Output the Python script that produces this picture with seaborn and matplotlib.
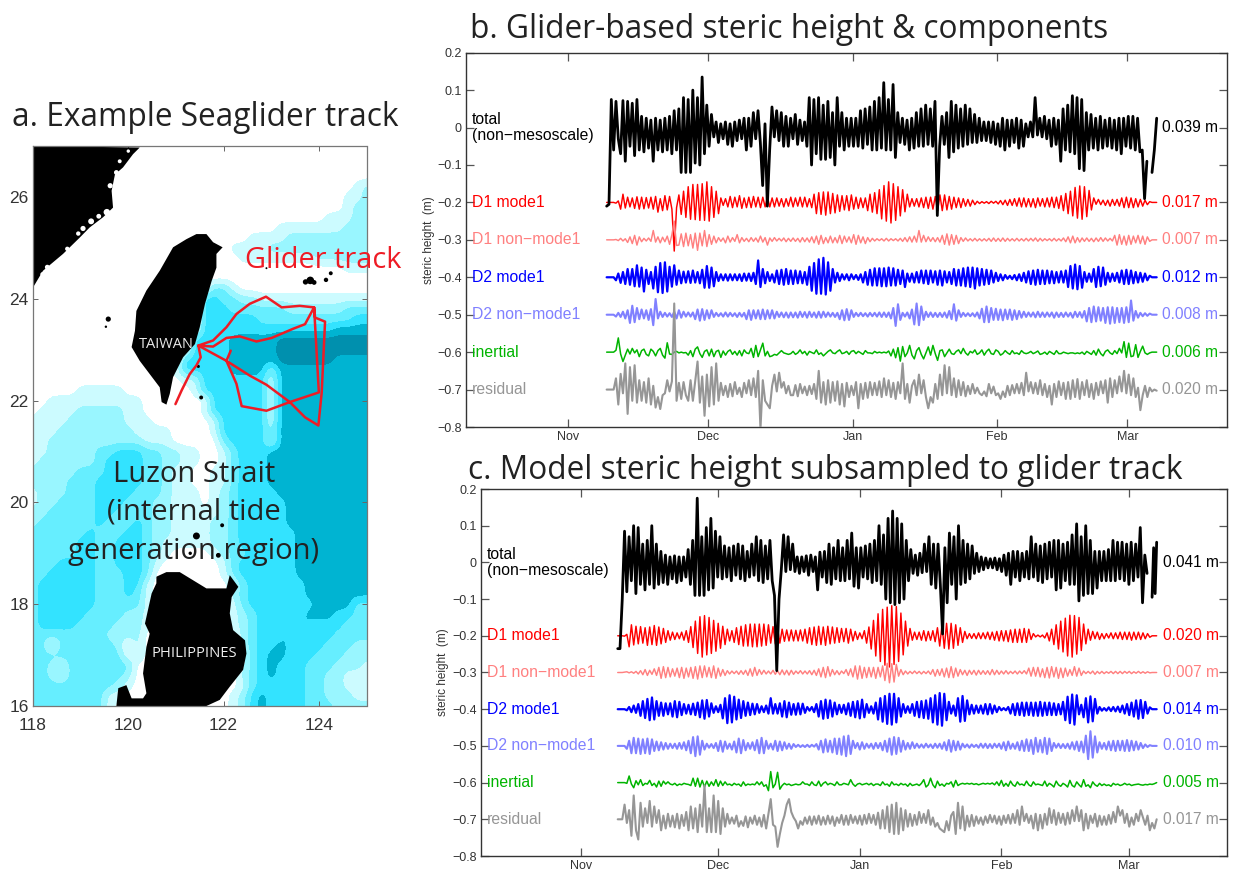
import numpy as np
import pandas as pd
import seaborn as sns
import matplotlib.pyplot as plt
from matplotlib.colors import ListedColormap

# map data (lon/lat), depth class strings, one row per 0.2 deg from 27N down to 16N
depth_rows = [
    "000000000000000000000000000000000000",
    "000000000000000000000000000000000000",
    "000000000000000000000000000000000000",
    "000000000000000000000000000000000000",
    "000000000000000000000000000000000012",
    "000000000000000000000000000000000112",
    "000000000000000000000000000000000122",
    "000000000000000000000000000000011122",
    "000000000000000000000000001111111222",
    "000000000000000000000001111222222222",
    "000000000000000000000111122222222222",
    "000000000000000000000011111111222222",
    "000000000000000000000000000000000111",
    "000000000000000000000000000000000000",
    "000000000000000000033100000000000000",
    "000000000000000000443322111111111111",
    "000000000000000000444333333222222333",
    "000000000000000000444444333333333344",
    "000000000000000000444444444444445555",
    "000000000000000004444555556666666666",
    "000000000000000004444555556666666666",
    "000000000000000044444555556666665555",
    "000000000000000144444555525555555555",
    "000000000000000011444444415555555555",
    "000001111100000001444444415555555555",
    "001111111111000000044444415555555555",
    "011112222211000000144444415555555555",
    "111122222211100000014444415555555555",
    "111222222221111000014444425555555555",
    "112222222222111000003444415555555555",
    "112222233444332211001344455555555555",
    "122222234444332211001344455555555555",
    "222223334444332110011344455555555555",
    "222233344444332110011344455555555555",
    "122233344443332111012344445555555555",
    "122333344433322111012344444555555555",
    "223333344333322111112344444555555555",
    "233333343334322111122344444555555555",
    "333333433344322111122344444455555555",
    "333334433444321111122344444455555555",
    "333334433444321000012334444455555555",
    "333444433444310000001344444455555555",
    "334444433344300000001344444455555555",
    "344444433344100000000134444445555555",
    "344444433343100000000234444445555555",
    "344444433333100000000134444444555533",
    "344444333322100000000123444445554433",
    "344443333222100000000123444454444333",
    "333333332222000000000023444544443333",
    "330333333202000000000023445444433322",
    "333333333302000000000013455444333222",
    "332133333330000000000013454443332221",
    "332133333320000000000023454443322111",
    "333333333210000000000013444443322111",
    "333333331100000000000124544443322211",
    "333333331000000000000124544443332222",
]
depth_colors = ["#FFFFFF", "#CCFBFF", "#99F6FF", "#66EEFF", "#33E3FF", "#00B4D2", "#0090AE"]

china_lon = [118, 120.24, 120.10, 119.89, 119.72, 119.65, 119.68, 119.47, 119.19, 118.98, 118.63, 118.21, 118]
china_lat = [27, 26.97, 26.84, 26.58, 26.44, 26.12, 25.79, 25.60, 25.40, 25.20, 24.88, 24.55, 24.22]
taiwan_lon = [121.43, 121.64, 121.78, 121.98, 121.85, 121.85, 121.75, 121.61, 121.50, 121.40, 121.15, 120.94, 120.87,
              120.80, 120.70, 120.66, 120.45, 120.24, 120.07, 120.14, 120.17, 120.38, 120.66, 120.94, 121.22]
taiwan_lat = [25.27, 25.27, 25.11, 25.01, 24.88, 24.61, 24.35, 23.90, 23.44, 23.11, 22.85, 22.46, 22.13,
              21.92, 21.97, 22.26, 22.52, 22.78, 23.05, 23.37, 23.76, 24.16, 24.55, 25.01, 25.17]
luzon_lon = [120.59, 120.80, 121.08, 121.36, 121.64, 122.06, 122.13, 122.31, 122.17, 122.13, 122.20, 122.45, 122.48,
             122.41, 122.13, 121.92, 121.64, 119.75, 119.79, 119.96, 120.07, 120.31, 120.38, 120.31, 120.38, 120.45,
             120.35, 120.49, 120.59]
luzon_lat = [18.54, 18.63, 18.63, 18.47, 18.31, 18.31, 18.57, 18.34, 18.14, 17.82, 17.49, 17.29, 17.03,
             16.71, 16.38, 16.12, 16.00, 16.00, 16.35, 16.41, 16.15, 16.15, 16.25, 16.64, 17.16, 17.42,
             17.62, 18.21, 18.41]
island_lon = [123.72, 123.82, 123.90, 124.15, 124.25, 121.53, 121.47, 121.43, 121.89, 121.30, 121.97, 119.58, 119.53, 122.90]
island_lat = [24.33, 24.36, 24.32, 24.37, 24.50, 22.06, 22.67, 19.34, 18.96, 19.00, 19.55, 23.60, 23.45, 24.60]
island_size = [15, 30, 12, 10, 8, 8, 5, 25, 12, 6, 8, 14, 3, 2]
speckle_lon = [119.62, 119.75, 119.55, 119.38, 119.22, 119.05, 118.95, 118.72, 118.30, 118.20, 119.82, 120.00, 119.48]
speckle_lat = [26.22, 26.48, 25.70, 25.62, 25.52, 25.38, 25.28, 24.98, 24.62, 24.48, 26.70, 26.90, 25.45]
speckle_size = [14, 12, 22, 12, 18, 14, 10, 10, 12, 10, 8, 6, 8]

track_lon = [120.99, 121.12, 121.29, 121.43, 121.52, 121.47, 121.78, 122.06, 122.27, 122.55, 122.89, 123.22, 123.60,
             123.90, 123.71, 123.46, 123.01, 122.69, 122.34, 122.06, 121.78, 121.47, 122.06, 122.55, 122.90, 123.39,
             123.71, 123.99, 124.06, 124.13, 123.92, 123.90, 124.00, 123.39, 122.90, 122.38, 122.27, 122.06, 122.15]
track_lat = [21.93, 22.20, 22.52, 22.69, 22.85, 23.08, 23.18, 23.44, 23.70, 23.90, 24.04, 23.83, 23.86,
             23.83, 23.50, 23.41, 23.23, 23.16, 23.26, 23.23, 23.06, 23.08, 22.78, 22.49, 22.31, 21.97,
             21.67, 21.51, 22.16, 23.55, 23.63, 23.83, 22.16, 21.97, 21.80, 21.89, 22.33, 22.78, 22.98]

# time axis, days since 1 Nov
month_days = [0, 30, 61, 92, 120]
month_names = ["Nov", "Dec", "Jan", "Feb", "Mar"]
y_ticks = [0.2, 0.1, 0, -0.1, -0.2, -0.3, -0.4, -0.5, -0.6, -0.7, -0.8]
y_tick_labels = ["0.2", "0.1", "0", "\u22120.1", "\u22120.2", "\u22120.3", "\u22120.4", "\u22120.5", "\u22120.6", "\u22120.7", "\u22120.8"]

# glider series, mm about each offset, roughly two readings per day
total_b = [-210, -205, 75, -60, 70, -30, -70, 72, -90, 70, -50, 65, -75, 75, -60, 30, -65, 25, -55, 20,
           -90, 25, -60, 20, -65, 25, -60, 30, -70, 45, -60, 50, -120, 80, -120, 75, -120, 100, -95, 80,
           -100, 135, -70, 60, -50, 35, -25, 15, -40, 10, -30, 15, -45, 10, -50, 15, -35, 20, -30, 25,
           -60, 25, -50, 40, -30, 45, -40, -155, 10, -210, -60, 55, -25, 45, -35, 40, -50, 30, -50, 25,
           -30, 35, -45, 20, -35, 15, -50, 80, -100, 75, -70, 80, -85, 60, -85, 70, -80, 40, -100, 80,
           -50, 40, -60, 25, -50, 25, -50, 25, -50, 45, -55, 50, -45, 55, -60, 70, -60, 80, -55, 120,
           -60, 75, -60, 115, -80, 40, -40, 25, -45, 20, -60, 25, -55, 40, -50, 50, -50, 60, -45, 50,
           -50, 70, -235, -50, 30, -45, 40, -80, 70, -65, 60, -55, 50, -50, 60, -45, 50, -40, 35, -40,
           25, -35, 15, -35, 15, -40, 15, -45, 10, -50, 25, -60, 20, -50, 20, -40, 25, -55, 20, -50,
           10, -25, 15, -25, 80, -20, 25, -25, 30, -30, 20, -50, 25, -45, 20, -90, 50, -60, 60, -65,
           85, -70, 80, -110, 75, -115, 40, -60, 35, -55, 25, -60, 30, -55, 20, -50, 25, -55, 20, -60,
           25, -70, 25, -50, 30, -55, 30, -60, 25, -65, -60, -190, -90]
total_b_end = [-120, -60, 25]
d1_mode1_b = [0, 0, 0, 0, -2, 4, -18, 22, -15, 14, -12, 12, -16, 15, -18, 14, -17, 13, -15, 14,
              -18, 16, -26, 10, -22, 18, -20, 16, -18, -130, -14, 20, -32, 30, -40, 42, -45, 48, -46, 48,
              -48, 50, -48, 55, -50, 42, -40, 30, -30, 12, -8, 10, -12, 16, -14, 14, -12, 18, -16, 12,
              -14, 14, -14, 16, -12, 14, -14, 14, -12, 14, -12, 12, -12, 12, -10, 10, -12, 10, -10, 14,
              -12, 12, -10, 14, -12, 14, -12, 10, -14, 22, -30, 26, -32, 28, -34, 28, -30, 24, -28, 20,
              -24, 18, -20, 18, -22, 20, -18, 14, -16, 12, -14, 12, -22, 22, -26, 26, -30, 34, -44, 45,
              -50, 55, -55, 50, -48, 42, -36, 34, -25, 22, -12, 10, -10, 10, -12, 12, -14, 14, -16, 14,
              -18, 16, -22, 20, -22, 20, -20, 16, -18, 14, -14, 12, -14, 10, -10, 8, -10, 6, -6, 3,
              -3, 2, -2, 2, -3, 3, -2, 3, -4, 5, -6, 6, -8, 8, -8, 10, -10, 12, -12, 12,
              -12, 10, -12, 10, -14, 12, -10, 10, -12, 12, -12, 14, -14, 14, -16, 18, -22, 24, -30, 30,
              -36, 40, -42, 44, -45, 42, -38, 32, -20, 12, -5, 8, -6, 6, -8, 6, -10, 8, -8, 8,
              -10, 12, -14, 14, -14, 12, -14, 10, -12, 8, -10, 6, -6, 2, 0, 0, 0]
d1_other_b = [0, 0, 0, 0, 1, -2, 4, -3, 3, -7, 8, -10, 12, -14, 8, -5, 4, -3, 5, -4,
              25, -6, 8, -8, 7, -5, 10, -12, 14, 50, -15, -14, 16, -18, 18, -16, 14, -22, 18, -28,
              18, -16, 25, -18, 14, -12, 10, -8, 6, -4, 5, -8, 10, -6, 6, -4, 14, -8, 6, -4,
              4, -5, 6, -4, 5, -6, 10, -6, 6, -14, 5, -4, 6, -3, 4, -3, 5, -5, 4, -4,
              5, -4, 4, -6, 6, -5, 5, -6, 8, -8, 10, -12, 12, -10, 6, -8, 10, -8, 6, -8,
              12, -10, 10, -6, 8, -8, 14, -12, 12, -8, 8, -10, 6, -5, 4, -3, 3, -2, 3, -3,
              4, -3, 3, -2, 3, -3, 4, -4, 6, -5, 8, -6, 10, -6, 25, -6, 12, -5, 8, -4,
              6, -5, 6, -6, 12, -12, 16, -14, 14, -12, 12, -10, 6, -4, 5, -3, 3, -3, 4, -3,
              3, -3, 3, -3, 4, -4, 5, -4, 4, -4, 5, -4, 4, -3, 3, -3, 4, -3, 3, -3,
              4, -3, 4, -3, 5, -4, 4, -3, 3, -2, 3, -3, 4, -3, 3, -3, 5, -5, 8, -8,
              10, -8, 6, -6, 5, -4, 5, -4, 4, -5, 5, -4, 6, -4, 5, -3, 4, -3, 12, -14,
              14, -12, 10, -14, 12, -12, 10, -8, 12, -10, 10, -12, 8, -4, 0, 0, 0]
d2_mode1_b = [0, 0, 0, 0, -8, 10, -15, 14, -18, 22, -20, 22, -24, 32, -25, 26, -38, 20, -18, 14,
              -30, 28, -40, 38, -42, 40, -38, 28, -25, 32, -20, 18, -16, 15, -14, 16, -15, 18, -14, 14,
              -16, 20, -28, 30, -28, 26, -24, 14, -10, 8, -8, 8, -9, 8, -8, 8, -8, 8, -10, 10,
              -9, 10, -10, 12, -18, 45, -26, 22, -16, 14, -10, 8, -14, 18, -18, 20, -20, 22, -18, 18,
              -18, 18, -16, 16, -16, 14, -20, 28, -36, 38, -44, 48, -44, 52, -46, 40, -36, 22, -14, 12,
              -10, 8, -6, 8, -8, 8, -5, 6, -7, 8, -14, 14, -20, 20, -22, 24, -22, 24, -24, 24,
              -24, 26, -22, 24, -22, 20, -18, 18, -26, 10, -12, 10, -14, 14, -14, 18, -16, 18, -18, 18,
              -14, 16, -20, 18, -22, 16, -14, 14, -18, 22, -22, 20, -22, 24, -24, 26, -26, 26, -30, 24,
              -22, 22, -20, 20, -18, 18, -14, 12, -10, 8, -8, 6, -4, 4, -5, 6, -8, 8, -10, 12,
              -14, 16, -18, 18, -20, 20, -18, 18, -18, 18, -16, 16, -16, 14, -14, 16, -14, 18, -26, 30,
              -30, 34, -32, 30, -28, 14, -12, 10, -12, 22, -26, 28, -24, 26, -20, 12, -12, 10, -10, 12,
              -14, 18, -18, 20, -18, 18, -16, 14, -14, 12, -12, 10, -8, 4, 0, 0, 0]
d2_other_b = [0, 0, 0, 0, -5, 5, -6, 8, -10, 12, -22, 24, -20, 18, -12, 14, -10, 12, -14, 15,
              -28, 42, -10, 8, -6, 5, -5, 4, -6, 8, -10, 12, -8, 8, -5, 6, -5, 6, -12, 14,
              -16, 15, -14, 12, -10, 12, -6, 5, -4, 4, -5, 6, -5, 5, -4, 4, -6, 5, -5, 5,
              -12, 12, -14, 12, -10, 12, -12, 14, -12, 12, -10, 12, -10, 8, -6, 6, -7, 6, -8, 6,
              -7, 6, -8, 8, -6, 7, -8, 8, -6, 6, -8, 8, -8, 8, -6, 6, -5, 5, -6, 5,
              -12, 12, -15, 15, -14, 12, -6, 5, -4, 5, -4, 4, -5, 5, -4, 5, -5, 6, -6, 6,
              -6, 6, -10, 18, -30, 28, -14, 5, -5, 6, -10, 14, -26, 30, -28, 22, -14, 8, -6, 6,
              -6, 5, -6, 5, -6, 6, -8, 10, -12, 28, -16, 12, -6, 5, -4, 4, -4, 4, -5, 6,
              -10, 16, -20, 22, -20, 18, -14, 16, -14, 14, -15, 14, -12, 14, -14, 12, -12, 10, -8, 8,
              -6, 6, -5, 6, -7, 8, -6, 6, -6, 6, -5, 6, -8, 6, -6, 5, -6, 6, -5, 5,
              -8, 8, -6, 7, -8, 10, -18, 18, -20, 22, -18, 20, -16, 18, -22, 20, -24, 20, -22, 18,
              -20, 18, -22, 20, -20, 38, -16, 10, -8, 5, -4, 4, -3, 3, 0, 0, 0]
inertial_b = [0, 0, 0, 0, 5, 38, -5, -25, -8, 8, -5, 10, -2, 6, -12, 4, 8, -6, -10, 8,
              2, -10, 4, 10, -8, -16, 25, -5, -6, 0, 2, -2, 0, -2, -1, -8, 4, -12, 8, 14,
              -4, -14, 2, 6, -10, 8, -12, 2, 5, -14, 3, -8, 2, 6, -6, 2, -8, 4, -10, 6,
              -2, -4, 10, -14, 18, -12, 6, 24, -10, 2, -12, -10, -6, -8, -2, 4, -2, -4, -6, -4,
              2, -6, -2, 6, -4, 2, -8, 2, -1, -4, 6, -6, -2, -10, -4, 2, 6, -2, -4, 2,
              6, -4, -2, 2, -6, 2, 4, -4, 2, -2, -6, 4, -2, -2, -4, 2, -2, 0, -2, 0,
              -2, 3, -10, 8, -15, 12, -24, 15, -12, -2, 18, -8, -18, 4, 12, -6, -18, -2, 14, -8,
              18, -4, -22, 4, 6, -12, -2, 8, -4, -6, 2, 6, -4, 10, -2, -8, 2, -2, 6, -6,
              -2, 6, -8, 2, 8, -4, -6, 6, 2, -8, -4, 4, -2, -6, 4, -4, -2, -6, 4, -2,
              -4, -2, 2, -4, -1, 3, -6, -4, 0, -6, 2, -2, -6, 4, -4, -4, 0, -2, -4, -2,
              -2, -4, -2, -4, 0, -6, 2, -2, -6, 4, -8, 8, -4, -10, 2, 6, -2, -6, 4, -4,
              10, -2, 28, -14, 24, -12, -10, 20, -14, 2, 16, -2, -6, -2, 0, 0, 0]
residual_b = [0, 0, 0, 0, 30, -40, 42, -10, 70, -65, 60, -30, 65, -35, 25, -30, 20, -35, 30, -40,
              10, -48, -20, -52, -15, -10, 25, -5, 22, 230, -30, 18, -25, 20, -15, -30, 25, -30, 22, 75,
              -35, 35, -70, 40, -45, 60, -40, 70, -30, 18, -15, 10, -20, 15, -18, 20, -12, 5, -20, 18,
              -10, 25, -15, 30, -20, 50, -105, 25, -30, -40, -50, 10, 40, -5, 45, 5, 20, -10, 10, -15,
              -15, 12, -18, 15, -10, 8, -15, 10, -12, 15, -25, 50, -35, 20, -40, 25, -35, 20, -30, 22,
              -40, 15, -45, 18, -20, 10, -15, 20, -50, 15, -25, 18, -22, 20, -15, 18, -15, 22, -20, 30,
              -15, 25, -20, 18, -25, 20, -10, 70, -25, 15, -35, 10, 25, -15, 40, -10, 25, -20, -50, -20,
              -35, 15, -25, 40, -15, 65, -10, 60, -15, 30, -20, 25, -15, 20, -18, 10, -12, 15, -10, 5,
              -10, -15, -5, -18, 15, -10, 8, -15, -10, -25, -5, -20, 10, -15, 12, -10, 15, -10, 18, -15,
              45, -5, 20, -10, 18, -12, 25, -15, 15, -20, 10, -40, 15, -20, 22, -15, 18, -25, 20, -25,
              25, -20, 28, -25, 20, -15, 25, -20, 15, -25, 18, -15, 22, -10, 25, -35, 30, -20, 25, -10,
              35, -5, 50, -10, 40, -15, 30, -20, 5, -55, -15, 10, -20, 5, -5, 0, -3]

# model series, same layout
total_c = [-235, -235, -100, 85, -80, 70, -50, 100, -85, 95, -60, 50, -75, 60, -60, 100, -70, 50, -60, 30,
           -55, 20, -60, 15, -45, 18, -55, 15, -50, 15, -40, 35, -60, 60, -90, 175, -90, 70, -90, 95,
           -75, 120, -70, 85, -40, 70, -45, 45, -40, 40, -50, 45, -35, 50, -45, 45, -50, 30, -40, 50,
           -35, 70, -50, 60, -55, 45, -45, 60, -50, -90, -295, -100, -20, 75, -25, 70, -20, 50, -25, 15,
           -30, 15, -25, 18, -35, 20, -25, 15, -75, 28, -40, 30, -55, 50, -60, 40, -45, 60, -50, 40,
           -50, 60, -45, 80, -65, 40, -70, 40, -40, 45, -45, 50, -55, 60, -50, 100, -60, 75, -100, 120,
           -110, 140, -115, 120, -110, 105, -100, 60, -50, 35, -30, 20, -35, 25, -28, 50, -25, 70, -60, 50,
           -70, 50, -60, -195, 40, -110, 80, -60, 70, -100, 100, -60, 60, -55, 50, -45, 45, -30, 25, -25,
           15, -20, 12, -15, 10, -15, 12, -20, 10, -25, 20, -35, 25, -60, 30, -40, 30, -50, 25, -40,
           30, -45, 70, -40, 50, -50, 45, -55, 50, -45, 55, -40, 60, -75, 60, -70, 50, -50, 55, -60,
           75, -60, 105, -105, 70, -90, 100, -85, 60, -85, 30, -70, 30, -50, 30, -50, 35, -50, 60, -50,
           55, -45, 55, -50, 50, -60, 55, -50, 50, -40, 95, -110, 20, -30]
total_c_end = [-95, 40, -85, 55]
d1_mode1_c = [0, 0, 0, -1, 4, -30, 30, -25, 26, -22, 25, -20, 22, -26, 24, -24, 28, -26, 24, -22,
              20, -18, 14, -12, 10, -10, 8, -8, 10, -12, 14, -18, 25, -32, 40, -48, 52, -58, 55, -52,
              50, -48, 42, -42, 34, -34, 26, -24, 18, -14, 14, -18, 22, -24, 26, -28, 30, -28, 32, -30,
              32, -30, 32, -28, 32, -26, 30, -20, 25, -22, 20, -20, 18, -15, 16, -14, 16, -14, 15, -14,
              16, -14, 18, -20, 22, -24, 24, -26, 26, -24, 24, -26, 26, -22, 24, -20, 22, -18, 20, -16,
              20, -20, 18, -14, 12, -10, 8, -8, 14, -20, 24, -36, 42, -55, 60, -70, 72, -80, 78, -85,
              82, -78, 80, -70, 62, -52, 40, -28, 20, -12, 10, -10, 10, -12, 14, -14, 12, -12, 14, -16,
              22, -28, 30, -34, 34, -36, 34, -34, 30, -26, 22, -18, 12, -8, 6, -7, 6, -8, 8, -8,
              8, -8, 10, -10, 10, -12, 12, -14, 14, -14, 14, -16, 16, -18, 18, -18, 18, -18, 20, -18,
              18, -10, 6, -3, 2, -3, 2, -6, 8, -14, 18, -24, 30, -36, 40, -44, 48, -55, 56, -58,
              55, -50, 50, -40, 32, -22, 18, -12, 12, -8, 10, -10, 6, -8, 6, -6, 8, -8, 8, -8,
              10, -10, 10, -10, 10, -12, 10, -10, 10, -10, 8, -8, 6, -4, 0, 0, 0]
d1_other_c = [0, 0, 0, 1, 2, -1, 2, -2, 3, -4, 5, -6, 8, -8, 6, -5, 10, -8, 14, -16,
              16, -14, 14, -12, 10, -10, 12, -14, 14, -16, 12, -12, 14, -16, 16, -18, 18, -14, 18, -12,
              14, -14, 18, -16, 12, -10, 8, -8, 5, -4, 4, -3, 4, -5, 5, -5, 6, -8, 10, -10,
              14, -8, 8, -5, 6, -4, 4, -4, 6, -5, 5, -6, 7, -6, 6, -7, 6, -5, 4, -3,
              5, -4, 4, -4, 5, -6, 6, -8, 10, -12, 14, -14, 16, -10, 8, -6, 5, -6, 4, -3,
              8, -8, 10, -12, 18, -18, 18, -16, 14, -14, 14, -12, 14, -16, 14, -12, 18, -22, 25, -28,
              24, -26, 22, -10, 8, -6, 4, -4, 3, -3, 4, -3, 3, -4, 3, -3, 4, -5, 8, -10,
              8, -8, 10, -12, 12, -14, 16, -14, 12, -10, 8, -6, 6, -8, 6, -5, 6, -7, 6, -5,
              5, -5, 5, -6, 8, -6, 6, -5, 4, -4, 5, -4, 3, -3, 4, -4, 4, -3, 5, -4,
              12, -10, 14, -10, 14, -12, 10, -14, 14, -15, 16, -12, 14, -16, 12, -14, 12, -10, 8, -8,
              16, -10, 12, -8, 4, -3, 3, -3, 4, -5, 3, -3, 3, -3, 2, -2, 3, -3, 3, -3,
              3, -3, 3, -2, 3, -3, 2, -2, 3, -2, 2, -2, 2, -1, 0, 0, 0]
d2_mode1_c = [0, 0, 0, 0, -3, 6, -8, 10, -10, 14, -18, 22, -24, 28, -30, 32, -28, 22, -18, 18,
              -18, 16, -14, 16, -20, 22, -22, 20, -16, 14, -12, 12, -14, 15, -16, 18, -22, 24, -26, 25,
              -20, 16, -10, 8, -8, 12, -25, 30, -38, 38, -36, 34, -28, 26, -24, 22, -18, 18, -16, 15,
              -14, 14, -10, 8, -8, 10, -12, 30, -12, 14, -12, 16, -20, 22, -22, 18, -15, 14, -15, 16,
              -14, 15, -10, 6, -4, 6, -8, 14, -20, 22, -26, 26, -24, 24, -20, 18, -14, 12, -10, 12,
              -14, 16, -18, 20, -22, 22, -25, 26, -22, 14, -10, 8, -12, 18, -28, 30, -34, 36, -40, 42,
              -42, 42, -36, 30, -20, 14, -10, 8, -10, 14, -18, 20, -22, 22, -24, 24, -26, 30, -36, 38,
              -42, 44, -45, 42, -30, 20, -12, 10, -18, 30, -34, 36, -32, 24, -14, 12, -12, 10, -10, 10,
              -12, 14, -14, 14, -12, 10, -8, 6, -3, 3, -3, 6, -12, 14, -16, 16, -16, 18, -18, 18,
              -16, 18, -18, 18, -18, 20, -18, 18, -16, 18, -16, 16, -16, 14, -14, 20, -30, 34, -38, 40,
              -42, 38, -14, 12, -22, 30, -36, 35, -33, 28, -12, 6, -4, 3, -4, 5, -5, 6, -6, 7,
              -8, 10, -12, 14, -16, 18, -20, 24, -26, 25, -24, 20, -12, 5, 0, 0, 0]
d2_other_c = [0, 0, 0, 0, -8, 14, -20, 22, -20, 20, -22, 18, -20, 20, -22, 18, -14, 12, -12, 10,
              -10, 8, -8, 6, -6, 6, -8, 8, -8, 10, -12, 14, -20, 24, -28, 26, -24, 14, -10, 6,
              -5, 5, -6, 8, -14, 14, -16, 12, -8, 6, -10, 12, -18, 20, -20, 16, -12, 8, -8, 10,
              -12, 16, -20, 22, -20, 14, -8, 6, -10, 14, -14, 12, -12, 10, -8, 6, -8, 5, -3, 3,
              -3, 2, -3, 3, -3, 3, -2, 5, -10, 14, -18, 18, -16, 14, -18, 20, -22, 20, -24, 26,
              -28, 28, -22, 14, -6, 8, -10, 10, -8, 6, -5, 6, -8, 8, -6, 8, -12, 14, -16, 20,
              -24, 24, -22, 22, -16, 14, -10, 8, -8, 10, -6, 6, -5, 4, -5, 6, -4, 4, -6, 6,
              -5, 6, -8, 10, -12, 16, -16, 14, -12, 12, -10, 6, -4, 4, -5, 4, -3, 3, -5, 6,
              -5, 6, -6, 5, -6, 6, -4, 6, -8, 10, -12, 12, -8, 6, -8, 10, -12, 14, -14, 18,
              -14, 16, -22, 22, -16, 16, -18, 22, -22, 20, -14, 8, -5, 6, -6, 5, -6, 6, -8, 10,
              -10, 12, -14, 12, -18, 28, -36, 40, -32, 26, -18, 10, -8, 8, -10, 12, -12, 14, -14, 14,
              -12, 14, -14, 16, -14, 14, -12, 12, -10, 8, -6, 4, -3, 2, 0, 0, 0]
inertial_c = [0, 0, 0, 0, -2, 18, -4, -14, 5, -6, 8, -8, -2, -4, 6, -8, -2, -12, 4, -10,
              4, -4, 2, -4, -6, -2, -8, -4, -6, -2, -4, -5, -8, 12, -10, 12, -12, 6, -12, 4,
              -10, 2, -8, 8, -10, 4, -8, 2, -6, -4, -8, -2, -6, -4, -10, 2, -8, -4, -6, -4,
              -6, 2, -6, 2, -10, -6, -22, 30, -14, -4, 28, -18, -8, -2, -6, -4, -8, -6, -4, -6,
              -5, 2, -4, -4, -8, 2, -6, -8, 4, -10, -2, 2, -6, -2, -4, -8, 2, -6, -6, -2,
              -4, -6, 8, -4, -10, -4, -2, -6, -4, -2, -6, -2, -8, -4, -4, -8, 2, -6, -4, -10,
              2, -6, -4, -8, -2, -6, -4, -10, -2, -8, -6, -4, -8, -2, 8, -12, -6, 12, -6, -14,
              4, -8, -4, -10, -2, -4, 2, -12, 6, -8, -4, -2, -4, -2, -4, -2, -5, -3, -6, -4,
              -2, -4, -2, -4, -1, -6, 2, -8, 6, -10, -2, -10, 4, -6, -10, 2, -6, -4, -8, 4,
              -6, -10, 2, -6, -4, -6, -8, 4, -10, -2, -6, -12, 4, -6, -10, -2, -6, -12, 6, -8,
              -12, 2, -6, -12, 8, -10, -6, -14, 2, -6, -10, -2, -8, -4, -8, -6, -10, -2, -6, -4,
              -8, -6, -2, -6, -4, -8, -6, -5, -4, -6, -7, -5, -6, -4, -5, -3, 0]
residual_c = [0, 0, 0, 40, -10, 25, -45, 65, -30, -55, 45, -20, 30, -10, 50, -20, 35, -10, 25, -30,
              10, -25, 15, -20, 10, -22, 15, -25, 12, -18, 20, -30, 35, -25, 30, -35, 40, -20, 93, -35,
              30, -35, 65, -35, 50, -40, 30, -20, 15, -12, 5, -12, 10, -20, -5, -18, 8, -22, 5, -12,
              10, -15, 5, -20, 12, -25, 15, 55, -15, -20, -75, -40, -10, 10, 40, 55, 20, 5, -5, -25,
              -5, -15, 5, -12, 8, -15, 8, -12, 10, -15, 6, -14, 10, -12, 8, -18, 5, -10, 12, -15,
              10, -15, 12, -10, 8, -12, 10, -15, 12, -12, 15, -10, 12, -15, 18, -25, 25, -25, 35, -35,
              40, -40, 45, -40, 30, -30, 25, -20, 15, -18, 12, -15, 20, -10, 15, -10, 25, -15, 5, -20,
              -10, -25, -30, -35, -5, -30, 10, 20, -40, 45, -25, 35, -30, 10, -20, 12, -18, 8, -12, 5,
              -15, 8, -10, 12, -8, 10, -12, 8, -15, 10, -10, 12, -12, 15, -10, 25, -15, 35, -5, 15,
              -10, 10, -25, 15, -30, 12, -25, 15, -15, 30, -10, 25, -15, 18, -10, 15, -15, 18, -12, 25,
              -5, 35, -5, 25, -30, 15, -25, 10, -10, 15, -20, 10, -15, 8, -15, 12, -12, 20, -8, 35,
              10, 25, -10, 15, -20, 5, -15, 15, -5, 25, 5, -15, 10, -30, -10, -25, 0]

series_names = ["total", "D1 mode1", "D1 non\u2212mode1", "D2 mode1", "D2 non\u2212mode1", "inertial", "residual"]
series_offsets = [0, -0.2, -0.3, -0.4, -0.5, -0.6, -0.7]
series_colors = ["#000000", "#FF0000", "#FF8080", "#0000FF", "#8080FF", "#00B400", "#969696"]
series_widths = [2.0, 1.05, 1.05, 1.6, 1.5, 1.1, 1.5]
rms_b = ["0.039 m", "0.017 m", "0.007 m", "0.012 m", "0.008 m", "0.006 m", "0.020 m"]
rms_c = ["0.041 m", "0.020 m", "0.007 m", "0.014 m", "0.010 m", "0.005 m", "0.017 m"]

W, H = 1233, 872
HELV = ["Liberation Sans", "DejaVu Sans"]
TITLE = ["Open Sans", "DejaVu Sans"]
sns.set_theme(style="ticks")
plt.rcParams["font.family"] = HELV
plt.rcParams["axes.edgecolor"] = "#333333"


def px_axes(fig, left, top, right, bottom):
    return fig.add_axes([left / W, 1 - bottom / H, (right - left) / W, (bottom - top) / H])


def px_text(fig, x, y, s, **kw):
    return fig.text(x / W, 1 - y / H, s, **kw)


def draw_series(ax, values_by_name, start, end, rms, end_piece):
    for name, off, col, lw, vals in zip(series_names, series_offsets, series_colors, series_widths, values_by_name):
        last = end
        if name == "total":
            # last short stretch of the total line is separate, there is a gap before it
            last = end - 2.1
            d_end = pd.DataFrame({"day": np.linspace(end - 1.0, end, len(end_piece)),
                                  "y": off + np.array(end_piece) / 1000})
            sns.lineplot(data=d_end, x="day", y="y", color=col, lw=lw, estimator=None, ax=ax, zorder=5)
        df = pd.DataFrame({"day": np.linspace(start, last, len(vals)), "y": off + np.array(vals) / 1000})
        sns.lineplot(data=df, x="day", y="y", color=col, lw=lw, estimator=None, ax=ax,
                     zorder=5 if name == "total" else 3)
    for name, off, col, r in zip(series_names, series_offsets, series_colors, rms):
        label = "total\n(non\u2212mesoscale)" if name == "total" else name
        ax.text(-20.7, off, label, color=col, fontsize=11.3, va="center", ha="left", linespacing=1.1, zorder=6)
        ax.text(127.4, off, r, color=col, fontsize=11.2, va="center", ha="left", zorder=6)
    ax.set_xlim(-22, 141.4)
    ax.set_ylim(-0.8, 0.2)
    ax.set_xticks(month_days)
    ax.set_xticklabels(month_names, fontsize=9, color="#333333")
    ax.set_yticks(y_ticks)
    ax.set_yticklabels(y_tick_labels, fontsize=9, color="#333333")
    ax.set_xlabel("")
    ax.set_ylabel("")
    ax.tick_params(axis="both", direction="in", length=5.8, width=0.9, color="#555555",
                   top=True, right=True, pad=3)
    for s in ax.spines.values():
        s.set_visible(True)
        s.set_color("#333333")
        s.set_linewidth(1)


fig = plt.figure(figsize=(W / 100, H / 100), dpi=100, facecolor="white")

# a. map
ax_map = px_axes(fig, 33, 146, 366.5, 706)
depth = np.array([[int(c) for c in r] for r in depth_rows], dtype=float)
ax_map.imshow(depth, extent=(117.9, 125.1, 15.9, 27.1), aspect="auto", origin="upper",
              cmap=ListedColormap(depth_colors), vmin=-0.5, vmax=6.5,
              interpolation="bicubic", interpolation_stage="data")
ax_map.fill(china_lon, china_lat, color="black", lw=0)
ax_map.fill(taiwan_lon, taiwan_lat, color="black", lw=0)
ax_map.fill(luzon_lon, luzon_lat, color="black", lw=0)
sns.scatterplot(x=speckle_lon, y=speckle_lat, s=speckle_size, color="white", linewidth=0, ax=ax_map, legend=False)
sns.scatterplot(x=island_lon, y=island_lat, s=island_size, color="black", linewidth=0, ax=ax_map, legend=False)
ax_map.plot(track_lon, track_lat, color="#EE1C25", lw=1.8, solid_joinstyle="round")
ax_map.set_xlim(118, 125)
ax_map.set_ylim(16, 27)
ax_map.set_xticks([118, 120, 122, 124])
ax_map.set_yticks([16, 18, 20, 22, 24, 26])
ax_map.tick_params(axis="both", direction="in", length=3.5, width=0.7, labelsize=12.5, labelcolor="#333333",
                   color="#666666", top=True, right=True, pad=3)
ax_map.tick_params(axis="x", pad=9)
for s in ax_map.spines.values():
    s.set_visible(True)
    s.set_color("#777777")
    s.set_linewidth(0.9)
ax_map.text(120.8, 23.1, "TAIWAN", color="#E8E8E8", fontsize=10.5, ha="center", va="center", family=TITLE)
ax_map.text(121.39, 17.04, "PHILIPPINES", color="#EEEEEE", fontsize=10.6, ha="center", va="center", family=TITLE)

# b. glider panel
ax_b = px_axes(fig, 466, 52.7, 1227, 427)
draw_series(ax_b, [total_b, d1_mode1_b, d1_other_b, d2_mode1_b, d2_other_b, inertial_b, residual_b],
            8.2, 126.3, rms_b, total_b_end)

# c. model panel
ax_c = px_axes(fig, 480.7, 489, 1227, 856)
draw_series(ax_c, [total_c, d1_mode1_c, d1_other_c, d2_mode1_c, d2_other_c, inertial_c, residual_c],
            8.0, 126.0, rms_c, total_c_end)

px_text(fig, 12, 118, "a. Example Seaglider track", fontsize=22.8, color="#222222", family=TITLE, va="center")
px_text(fig, 470, 30, "b. Glider-based steric height & components", fontsize=22.8, color="#222222", family=TITLE, va="center")
px_text(fig, 468, 470, "c. Model steric height subsampled to glider track", fontsize=22.8, color="#222222", family=TITLE, va="center")
px_text(fig, 245, 260, "Glider track", fontsize=20.8, color="#EE1C25", family=TITLE, va="center")
for y, line in zip([474, 512, 551], ["Luzon Strait", "(internal tide", "generation region)"]):
    px_text(fig, 194, y, line, fontsize=21, color="#222222", family=TITLE, va="center", ha="center")
px_text(fig, 429, 240, "steric height  (m)", fontsize=8.5, color="#333333", rotation=90, va="center", ha="center")
px_text(fig, 443, 672, "steric height  (m)", fontsize=8.5, color="#333333", rotation=90, va="center", ha="center")

fig.savefig("out.png", dpi=100)
